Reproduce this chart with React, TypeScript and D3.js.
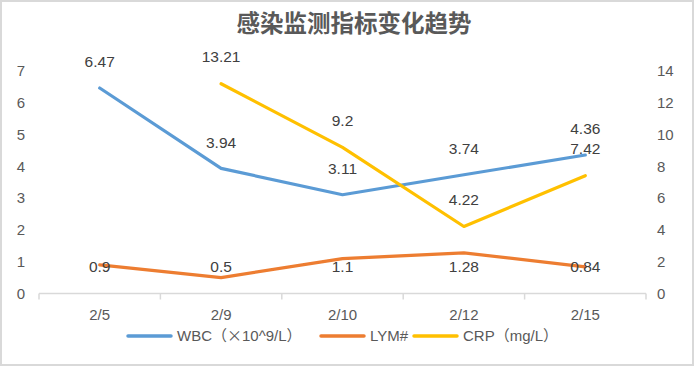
import React, { useEffect } from "react";
import * as d3 from "d3";

const categories = ["2/5", "2/9", "2/10", "2/12", "2/15"];
const wbc = [6.47, 3.94, 3.11, 3.74, 4.36];
const lym = [0.9, 0.5, 1.1, 1.28, 0.84];
const crp: (number | null)[] = [null, 13.21, 9.2, 4.22, 7.42];
const leftTicks = [0, 1, 2, 3, 4, 5, 6, 7];
const rightTicks = [0, 2, 4, 6, 8, 10, 12, 14];

const width = 695;
const height = 367;
const plot = { left: 39, right: 646, top: 71.2, bottom: 293.5 };

const font = "'Liberation Sans', 'Noto Sans CJK SC', sans-serif";
const cjk = "'Noto Sans CJK SC', sans-serif";

const x = d3
  .scaleBand<string>()
  .domain(categories)
  .range([plot.left, plot.right]);
const yLeft = d3.scaleLinear().domain([0, 7]).range([plot.bottom, plot.top]);
const yRight = d3.scaleLinear().domain([0, 14]).range([plot.bottom, plot.top]);

const cx = (c: string) => (x(c) ?? 0) + x.bandwidth() / 2;

type Series = {
  name: string[]; // [latin part, unit in full-width brackets]
  values: (number | null)[];
  color: string;
  y: d3.ScaleLinear<number, number>;
  labelY: (v: number) => number;
};

const series: Series[] = [
  { name: ["WBC", "（×", "10^9/L", "）"], values: wbc, color: "#5B9BD5", y: yLeft, labelY: (v) => yLeft(v) - 26 },
  { name: ["LYM#"], values: lym, color: "#ED7D31", y: yLeft, labelY: () => yLeft(0) - 27 },
  { name: ["CRP", "（", "mg/L", "）"], values: crp, color: "#FFC000", y: yRight, labelY: (v) => yRight(v) - 27 },
];

// legend layout: line start x for each entry
const legendX = [128, 321, 414];

const App = () => {
  useEffect(() => {
    document.body.style.margin = "0";
  }, []);

  return (
    <svg width={width} height={height} style={{ display: "block", fontFamily: font }}>
      <rect x={1} y={1} width={width - 3} height={height - 3} fill="#fff" stroke="#d9d9d9" strokeWidth={2} />
      <text
        x={354}
        y={32}
        textAnchor="middle"
        fontSize={23.5}
        fontWeight="bold"
        fill="#595959"
        style={{ fontFamily: cjk }}
      >
        感染监测指标变化趋势
      </text>

      {/* left axis */}
      {leftTicks.map((t) => (
        <text key={"l" + t} x={21} y={yLeft(t)} dy="0.35em" textAnchor="middle" fontSize={15} fill="#595959">
          {t}
        </text>
      ))}
      {/* right axis */}
      {rightTicks.map((t) => (
        <text key={"r" + t} x={657} y={yRight(t)} dy="0.35em" textAnchor="start" fontSize={15} fill="#595959">
          {t}
        </text>
      ))}

      {/* x axis */}
      <line x1={plot.left} x2={plot.right} y1={plot.bottom} y2={plot.bottom} stroke="#d9d9d9" strokeWidth={1.5} />
      {d3.range(categories.length + 1).map((i) => {
        const xx = plot.left + i * x.bandwidth();
        return <line key={i} x1={xx} x2={xx} y1={plot.bottom} y2={plot.bottom + 6} stroke="#d9d9d9" strokeWidth={1.5} />;
      })}
      {categories.map((c) => (
        <text key={c} x={cx(c)} y={315} dy="0.35em" textAnchor="middle" fontSize={15} fill="#595959">
          {c}
        </text>
      ))}

      {/* lines */}
      {series.map((s) => {
        const line = d3
          .line<number | null>()
          .defined((v) => v !== null)
          .x((_, i) => cx(categories[i]))
          .y((v) => s.y(v as number));
        return (
          <path
            key={s.name.join("")}
            d={line(s.values) || ""}
            fill="none"
            stroke={s.color}
            strokeWidth={3.2}
            strokeLinecap="round"
            strokeLinejoin="round"
          />
        );
      })}

      {/* data labels */}
      {series.map((s) =>
        s.values.map((v, i) =>
          v === null ? null : (
            <text
              key={s.name.join("") + i}
              x={cx(categories[i])}
              y={s.labelY(v)}
              dy="0.35em"
              textAnchor="middle"
              fontSize={15.5}
              fill="#404040"
            >
              {v}
            </text>
          )
        )
      )}

      {/* legend */}
      {series.map((s, i) => (
        <g key={"lg" + s.name.join("")}>
          <line
            x1={legendX[i]}
            x2={legendX[i] + 43}
            y1={336}
            y2={336}
            stroke={s.color}
            strokeWidth={3.5}
            strokeLinecap="round"
          />
          <text x={legendX[i] + 49} y={336} dy="0.35em" fontSize={15} fill="#595959">
            {s.name.map((part, j) =>
              j % 2 === 1 || part === "）" ? (
                <tspan key={j} style={{ fontFamily: cjk }}>
                  {part}
                </tspan>
              ) : (
                <tspan key={j}>{part}</tspan>
              )
            )}
          </text>
        </g>
      ))}
    </svg>
  );
};

export default App;
